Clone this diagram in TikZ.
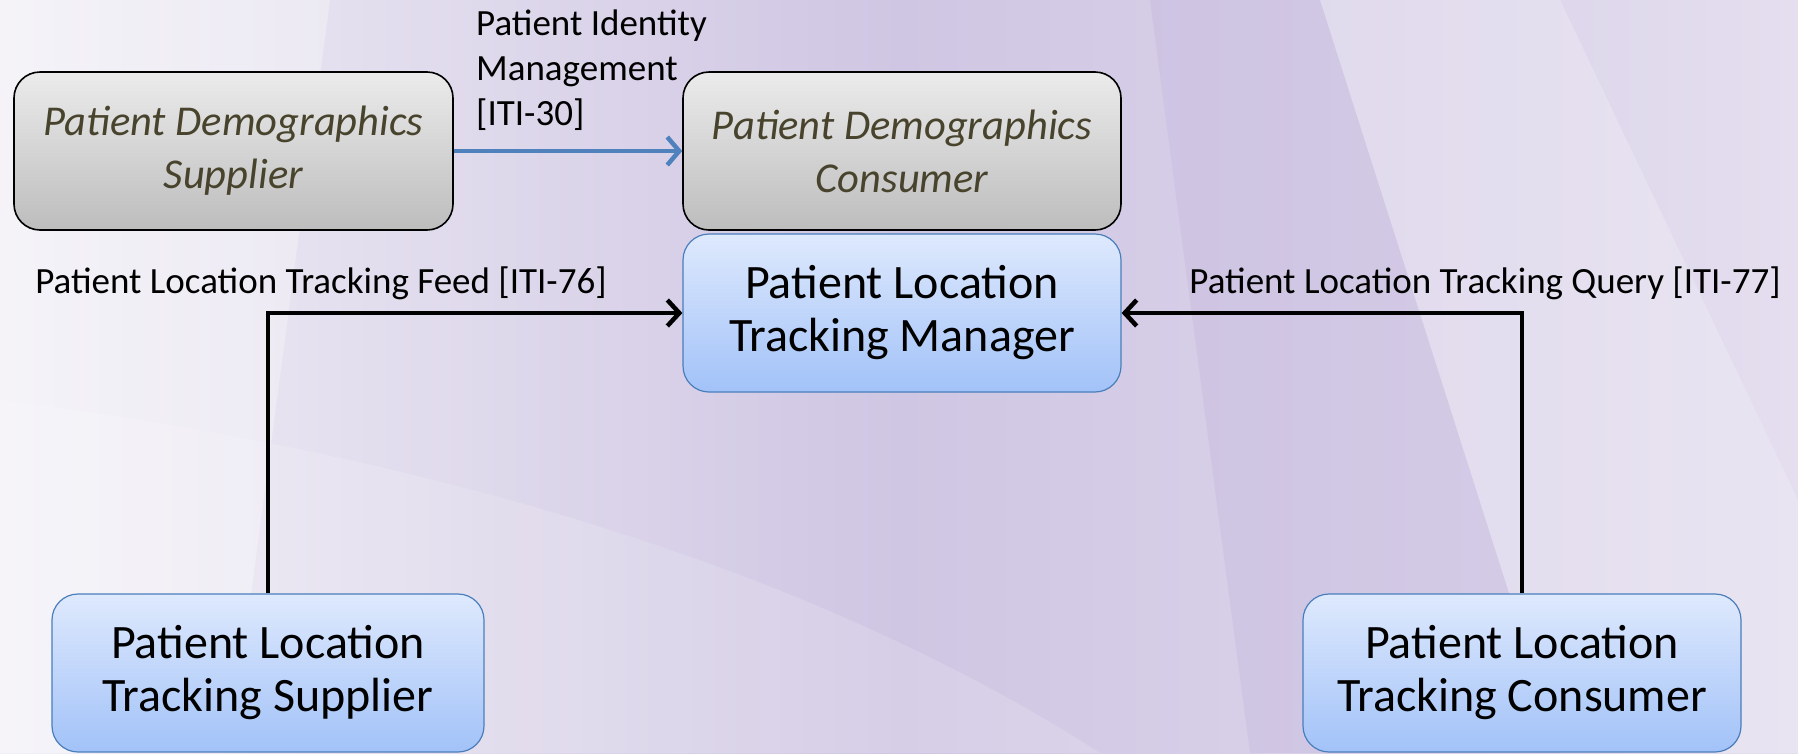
\documentclass[tikz,border=0pt]{standalone}
\usepackage{fontspec}
\setmainfont{Carlito}
\usetikzlibrary{arrows.meta}
\definecolor{bgL}{HTML}{F1EFF6}
\definecolor{bgM}{HTML}{CFC6E3}
\definecolor{bgD}{HTML}{C2B6DD}
\definecolor{bgR}{HTML}{E4DEEF}
\definecolor{blueTop}{HTML}{DEE9FD}
\definecolor{blueBot}{HTML}{A2C2F8}
\definecolor{blueEdge}{HTML}{4A7EBB}
\definecolor{grayTop}{HTML}{EBEBEB}
\definecolor{grayBot}{HTML}{BDBDBD}
\definecolor{olive}{HTML}{48432C}
\definecolor{pixarrow}{HTML}{4F81BD}
\tikzset{
  actorbox/.style={draw=blueEdge, line width=1.2pt, rounded corners=26pt,
    top color=blueTop, bottom color=blueBot, minimum height=158pt,
    align=center, font=\fontsize{48}{53}\selectfont, text=black},
  graybox/.style={draw=black, line width=1.6pt, rounded corners=26pt,
    top color=grayTop, bottom color=grayBot, minimum height=158pt,
    align=center, font=\fontsize{42.5}{53}\selectfont\itshape, text=olive},
  lbl/.style={font=\fontsize{37}{45}\selectfont, text=black, inner sep=0pt},
  flow/.style={line width=4.8pt, black, -{Straight Barb[length=12pt,width=26pt,line width=4.5pt]}},
  blueflow/.style={line width=4.8pt, pixarrow, -{Straight Barb[length=12pt,width=28pt,line width=4.5pt]}}
}
\begin{document}
\begin{tikzpicture}[x=1pt,y=-1pt]
\useasboundingbox (0,0) rectangle (1798,753);
% background
\fill[left color=bgL, right color=bgM] (0,0) rectangle (900,753);
\fill[left color=bgM, right color=bgR] (900,0) rectangle (1798,753);
\fill[bgD, opacity=0.35] (1150,0) -- (1320,0) -- (1560,753) -- (1250,753) -- cycle;
\fill[white, opacity=0.3] (0,0) -- (330,0) -- (230,753) -- (0,753) -- cycle;
\fill[white, opacity=0.2] (1320,0) -- (1560,0) -- (1798,500) -- (1798,753) -- (1560,753) -- cycle;
\fill[white, opacity=0.15] (0,400) .. controls (400,450) and (800,560) .. (1100,753) -- (0,753) -- cycle;
% boxes
\node[graybox, minimum width=439pt] (pds) at (233.5,151) {Patient Demographics\\Supplier};
\node[graybox, minimum width=438pt] (pdc) at (902,151) {Patient Demographics\\Consumer};
\node[actorbox, minimum width=438pt] (pltm) at (902,313) {Patient Location\\Tracking Manager};
\node[actorbox, minimum width=432pt] (plts) at (268,673) {Patient Location\\Tracking Supplier};
\node[actorbox, minimum width=438pt] (pltc) at (1522,673) {Patient Location\\Tracking Consumer};
% labels
\node[lbl, anchor=west, align=left] (l30) at (476,70) {Patient Identity\\Management\\{[ITI-30]}};
\node[lbl] (l76) at (321,283) {Patient Location Tracking Feed [ITI-76]};
\node[lbl] (l77) at (1485,283) {Patient Location Tracking Query [ITI-77]};
% connectors
\draw[blueflow] (pds.east) -- (pdc.west);
\draw[flow] (plts.north) |- (pltm.west);
\draw[flow] (pltc.north) |- (pltm.east);
\end{tikzpicture}
\end{document}
